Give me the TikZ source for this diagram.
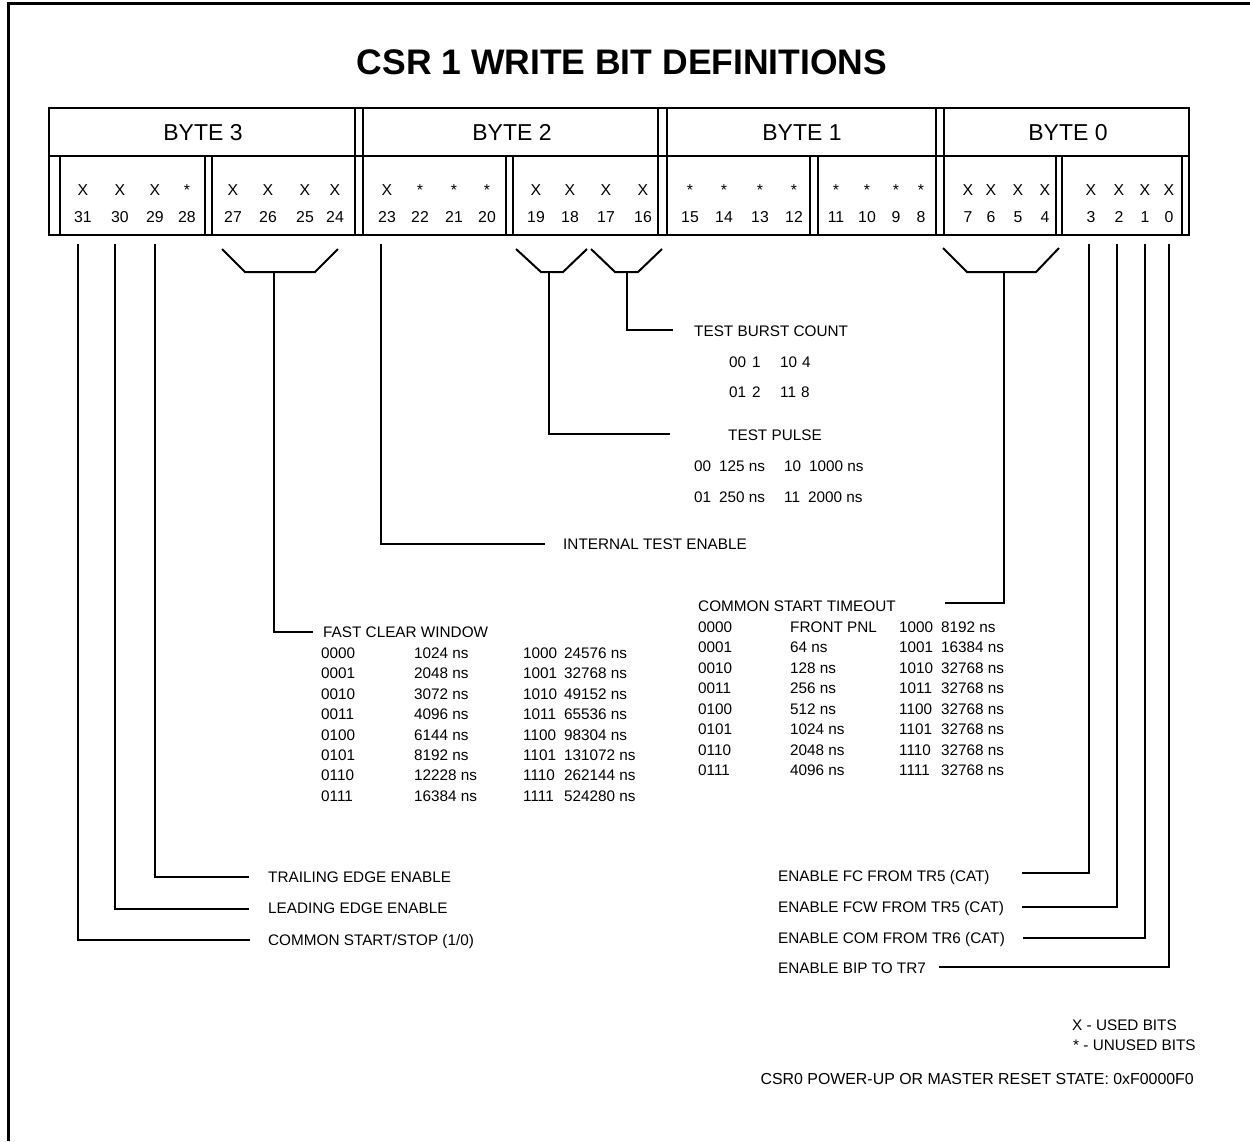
\documentclass[tikz,border=0pt]{standalone}
\usepackage{fontspec}
\setmainfont{Liberation Sans}
\begin{document}
\begin{tikzpicture}[x=1pt,y=-1pt,
  reg/.style={line width=2pt,line cap=rect},
  conn/.style={line width=2pt},
  sm/.style={font=\fontsize{15.3}{18}\selectfont,inner sep=0pt,text height=10.9pt,text depth=0pt,anchor=west},
  bitlbl/.style={font=\fontsize{15.8}{18}\selectfont,inner sep=0pt,text height=11.2pt,text depth=0pt,anchor=center},
  bytelbl/.style={font=\fontsize{23}{26}\selectfont,inner sep=0pt,text height=16.5pt,text depth=0pt,anchor=center},
  titlelbl/.style={font=\fontsize{35.5}{40}\selectfont\bfseries,inner sep=0pt,text height=25.4pt,text depth=0pt,anchor=center}]
\useasboundingbox (0,0) rectangle (1250,1141);
% frame
\draw[line width=3pt] (8,1141) -- (8,3) -- (1250,3);
% title
\node[titlelbl] (title) at (622,62) {CSR 1 WRITE BIT DEFINITIONS};
% register
\draw[reg] (49,108) rectangle (1189,235);
\draw[reg] (49,156) -- (1189,156);
\foreach \xx in {355,363,658,667,936,944} \draw[reg] (\xx,108) -- (\xx,235);
\foreach \xa/\xb in {60/205,212/355,363/506,513/658,667/810,818/936,944/1056,1062/1182}
  \draw[reg] (\xa,156) rectangle (\xb,235);
\node[bytelbl] (byte3) at (203,132) {BYTE 3};
\node[bytelbl] (byte2) at (512,132) {BYTE 2};
\node[bytelbl] (byte1) at (802,132) {BYTE 1};
\node[bytelbl] (byte0) at (1068,132) {BYTE 0};
\foreach \n/\xx/\m in {31/83/X,30/120/X,29/155/X,28/187/*,27/233/X,26/268/X,25/305/X,24/335/X,
  23/387/X,22/420/*,21/454/*,20/487/*,19/536/X,18/570/X,17/606/X,16/643/X,
  15/690/*,14/724/*,13/760/*,12/794/*,11/836/*,10/867/*,9/896/*,8/921/*,
  7/968/X,6/991/X,5/1018/X,4/1045/X,3/1091/X,2/1119/X,1/1145/X,0/1169/X}{
  \node[bitlbl] (m\n) at (\xx,190) {\m};
  \node[bitlbl] (b\n) at (\xx,217) {\n};
}
% brackets
\draw[conn] (222,249) -- (245,272) -- (315,272) -- (338,249);
\draw[conn] (516,249) -- (541,272) -- (563,272) -- (587,249);
\draw[conn] (591,249) -- (615,272) -- (638,272) -- (662,249);
\draw[conn] (943,248) -- (967,272) -- (1036,272) -- (1059,248);
% coordinates for connector ends
\coordinate (fcw) at (274,272);
\coordinate (tp) at (549,272);
\coordinate (tbc) at (627,272);
\coordinate (cst) at (1004,272);
\coordinate (ite) at (381,244);
% labels
\node[sm] (tbcl) at (694,331) {TEST BURST COUNT};
\node[sm] (tbc1) at (729,362) {00\hspace{6pt}1};
\node[sm] (tbc2) at (780,362) {10\hspace{5pt}4};
\node[sm] (tbc3) at (729,392) {01\hspace{6pt}2};
\node[sm] (tbc4) at (780,392) {11\hspace{5pt}8};
\node[sm] (tpl) at (728,435) {TEST PULSE};
\node[sm] (tp1) at (694,466) {00\hspace{8pt}125 ns};
\node[sm] (tp2) at (784,466) {10\hspace{8pt}1000 ns};
\node[sm] (tp3) at (694,497) {01\hspace{8pt}250 ns};
\node[sm] (tp4) at (784,497) {11\hspace{8pt}2000 ns};
\node[sm] (itel) at (563,544) {INTERNAL TEST ENABLE};
\node[sm] (fcwl) at (323,632) {FAST CLEAR WINDOW};
\node[sm] (cstl) at (698,606) {COMMON START TIMEOUT};
\foreach \a/\b/\c/\d [count=\i] in {0000/1024 ns/1000/24576 ns,0001/2048 ns/1001/32768 ns,
  0010/3072 ns/1010/49152 ns,0011/4096 ns/1011/65536 ns,0100/6144 ns/1100/98304 ns,
  0101/8192 ns/1101/131072 ns,0110/12228 ns/1110/262144 ns,0111/16384 ns/1111/524280 ns}{
  \node[sm] (fa\i) at (321,{653+(\i-1)*20.4}) {\a};
  \node[sm] (fb\i) at (414,{653+(\i-1)*20.4}) {\b};
  \node[sm] (fc\i) at (523,{653+(\i-1)*20.4}) {\c};
  \node[sm] (fd\i) at (564,{653+(\i-1)*20.4}) {\d};
}
\foreach \a/\b/\c/\d [count=\i] in {0000/FRONT PNL/1000/8192 ns,0001/64 ns/1001/16384 ns,
  0010/128 ns/1010/32768 ns,0011/256 ns/1011/32768 ns,0100/512 ns/1100/32768 ns,
  0101/1024 ns/1101/32768 ns,0110/2048 ns/1110/32768 ns,0111/4096 ns/1111/32768 ns}{
  \node[sm] (ca\i) at (698,{627+(\i-1)*20.5}) {\a};
  \node[sm] (cb\i) at (790,{627+(\i-1)*20.5}) {\b};
  \node[sm] (cc\i) at (899,{627+(\i-1)*20.5}) {\c};
  \node[sm] (cd\i) at (941,{627+(\i-1)*20.5}) {\d};
}
\node[sm] (tee) at (268,877) {TRAILING EDGE ENABLE};
\node[sm] (lee) at (268,908) {LEADING EDGE ENABLE};
\node[sm] (css) at (268,940) {COMMON START/STOP (1/0)};
\node[sm] (efc) at (778,876) {ENABLE FC FROM TR5 (CAT)};
\node[sm] (efcw) at (778,907) {ENABLE FCW FROM TR5 (CAT)};
\node[sm] (ecom) at (778,938) {ENABLE COM FROM TR6 (CAT)};
\node[sm] (ebip) at (778,968) {ENABLE BIP TO TR7};
\node[sm] (lx) at (1072,1025) {X - USED BITS};
\node[sm] (lu) at (1073,1045) {* - UNUSED BITS};
\node[sm,anchor=east,font=\fontsize{15.9}{18}\selectfont] (rst) at (1194,1079) {CSR0 POWER-UP OR MASTER RESET STATE: 0xF0000F0};
% connectors
\coordinate (e29) at (249,877);
\coordinate (e30) at (249,909);
\coordinate (e31) at (250,940);
\draw[conn] (b29 |- ite) |- (e29);
\draw[conn] ([xshift=-5pt]b30.center |- ite) |- (e30);
\draw[conn] ([xshift=-5pt]b31.center |- ite) |- (e31);
\coordinate (e3) at (1022,873);
\coordinate (e2) at (1022,907);
\coordinate (e1) at (1023,938);
\coordinate (e0) at (939,967);
\draw[conn] ([xshift=-2pt]b3.center |- ite) |- (e3);
\draw[conn] ([xshift=-2pt]b2.center |- ite) |- (e2);
\draw[conn] (b1 |- ite) |- (e1);
\draw[conn] (b0 |- ite) |- (e0);
\draw[conn] (ite) |- ([xshift=-18pt]itel.west);
\draw[conn] (tp) |- ([xshift=-58pt,yshift=1pt]tpl.west);
\draw[conn] (tbc) |- ([xshift=-21pt,yshift=1pt]tbcl.west);
\draw[conn] (fcw) |- ([xshift=-10pt]fcwl.west);
\draw[conn] (cst) |- (945,603);
\end{tikzpicture}
\end{document}
